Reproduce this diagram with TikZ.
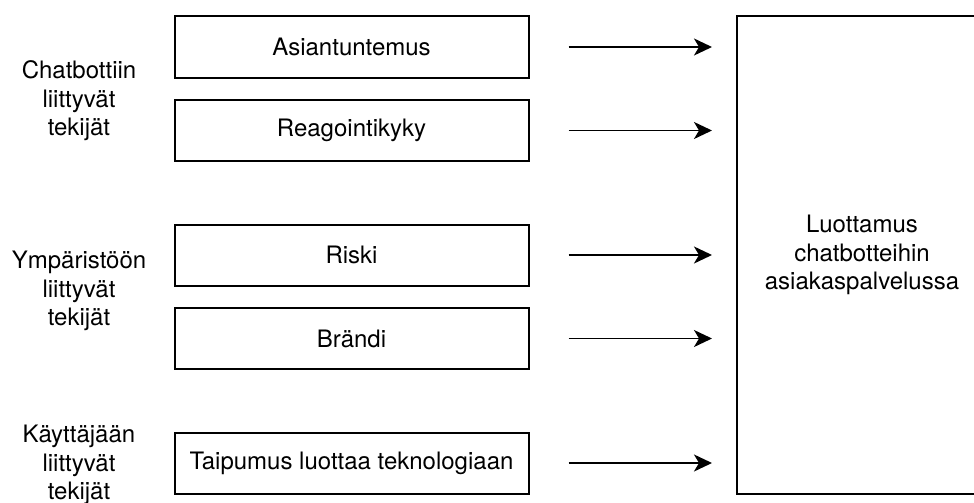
\documentclass[tikz,border=0pt]{standalone}
\usepackage{fontspec}
\setmainfont{TeX Gyre Heros}
\usepackage{tikz}
\usetikzlibrary{arrows.meta, positioning}

\begin{document}
\begin{tikzpicture}[x=1pt, y=-1pt, font=\fontsize{24}{28.5}\selectfont,
  factor/.style={draw, line width=2pt, minimum width=354pt, minimum height=61pt, inner sep=0pt},
  group/.style={align=center, inner sep=0pt},
  link/.style={-{Stealth[length=18pt, width=17pt, inset=5pt]}, line width=1.8pt, shorten <=39pt, shorten >=24pt}]
\useasboundingbox (0,0) rectangle (974,503);
\clip (0,0) rectangle (974,503);
% tekijat
\node[factor] (asiant) at (351.5,47) {Asiantuntemus};
\node[factor] (reag) at (351.5,130.5) {Reagointikyky};
\node[factor] (riski) at (351.5,255) {Riski};
\node[factor] (brandi) at (351.5,338.5) {Brändi};
\node[factor] (taip) at (351.5,463) {Taipumus luottaa teknologiaan};
% luottamus
\node[draw, line width=2pt, minimum width=250pt, minimum height=477pt, align=center] (luott) at (862,255) {Luottamus\\chatbotteihin\\asiakaspalvelussa};
% ryhmat
\node[group] (chatbot) at (79,101) {Chatbottiin\\liittyvät\\tekijät};
\node[group] (ymp) at (79,291) {Ympäristöön\\liittyvät\\tekijät};
\node[group] (kayt) at (79,465) {Käyttäjään\\liittyvät\\tekijät};
% nuolet
\draw[link] (asiant.east) -- (asiant.east -| luott.west);
\draw[link] (reag.east) -- (reag.east -| luott.west);
\draw[link] (riski.east) -- (riski.east -| luott.west);
\draw[link] (brandi.east) -- (brandi.east -| luott.west);
\draw[link] (taip.east) -- (taip.east -| luott.west);
\end{tikzpicture}
\end{document}
